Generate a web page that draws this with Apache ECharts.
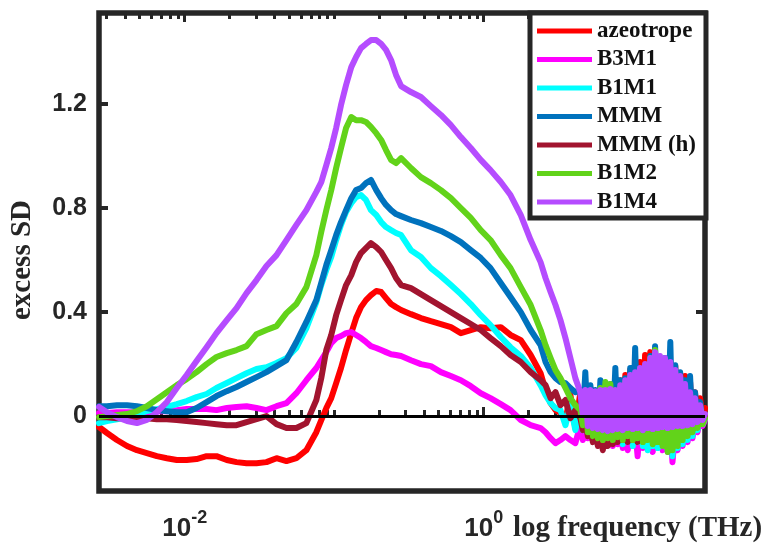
<!DOCTYPE html>
<html><head><meta charset="utf-8">
<script src="https://cdn.jsdelivr.net/npm/echarts@6/dist/echarts.min.js"></script>
<style>html,body{margin:0;padding:0;background:#fff}#c{width:769px;height:546px}</style>
</head><body><div id="c"></div>
<script>
// frequency grid (THz)
const freq = [0.00267,0.00302,0.00352,0.00411,0.00479,0.00558,0.00651,0.00759,0.00885,0.0103,
0.0120,0.0140,0.0163,0.0191,0.0222,0.0259,0.0302,0.0352,0.0411,0.0479,
0.0558,0.0651,0.0759,0.0819,0.0885,0.0955,0.103,0.111,0.120,0.130,
0.140,0.151,0.163,0.176,0.191,0.206,0.222,0.240,0.259,0.280,
0.326,0.380,0.443,0.517,0.603,0.703,0.819,0.955,1.11,1.30,
1.51,1.77,2.06,2.40,2.59,2.80,3.02,3.26,3.52,3.80,
4.10,
4.43,4.60,4.78,4.97,5.17,5.37,5.58,5.80,6.03,6.26,
6.51,6.76,7.03,7.30,7.59,7.88,8.19,8.51,8.85,9.19,
9.55,9.93,10.3,10.7,11.1,11.6,12.0,12.5,13.0,13.5,
14.0,14.6,15.1,15.7,16.3,17.0,17.7,18.3,19.1,19.8,
20.6,21.4,22.2,23.1,24.0,24.9,25.9,26.9,28.0,29.1,
30.2];

const azeotrope = [-0.042,-0.065,-0.092,-0.115,-0.131,-0.142,-0.154,-0.162,-0.169,-0.169,
-0.165,-0.154,-0.154,-0.169,-0.177,-0.181,-0.181,-0.177,-0.162,-0.173,
-0.162,-0.131,-0.062,-0.015,0.031,0.069,0.127,0.185,0.254,0.319,
0.377,0.419,0.446,0.465,0.481,0.477,0.454,0.431,0.419,0.408,
0.392,0.377,0.365,0.354,0.342,0.319,0.331,0.342,0.338,0.342,
0.312,0.292,0.235,0.165,0.100,0.050,0.023,0.012,-0.015,0.081,
-0.046,
0.092,-0.046,0.100,-0.054,0.108,-0.062,0.092,-0.054,0.100,-0.062,
0.108,-0.069,0.115,-0.054,0.115,-0.062,0.138,-0.069,0.158,-0.054,
0.177,-0.062,0.185,-0.069,0.208,-0.054,0.235,-0.062,0.246,-0.054,
0.231,-0.069,0.223,-0.054,0.215,-0.062,0.208,-0.054,0.192,-0.054,
0.162,-0.046,0.154,-0.046,0.131,-0.038,0.092,-0.031,0.069,-0.015,
0.031];

const B3M1 = [0.012,0.012,0.015,0.015,0.015,0.015,0.019,0.019,0.023,0.027,
0.027,0.027,0.023,0.031,0.035,0.038,0.031,0.023,0.038,0.050,
0.088,0.138,0.185,0.215,0.246,0.281,0.300,0.308,0.319,0.323,
0.312,0.300,0.285,0.269,0.262,0.254,0.246,0.238,0.235,0.231,
0.215,0.200,0.192,0.169,0.154,0.138,0.115,0.088,0.069,0.046,
0.023,-0.015,-0.035,-0.046,-0.062,-0.085,-0.104,-0.092,-0.077,-0.092,
-0.104,
-0.035,-0.092,-0.023,-0.085,-0.031,-0.092,-0.038,-0.100,-0.035,-0.108,
-0.046,-0.100,-0.046,-0.115,-0.054,-0.108,-0.046,-0.123,-0.054,-0.131,
-0.046,-0.115,-0.054,-0.154,-0.046,-0.123,-0.054,-0.115,-0.046,-0.138,
-0.054,-0.115,-0.046,-0.131,-0.054,-0.138,-0.046,-0.177,-0.054,-0.131,
-0.046,-0.115,-0.038,-0.100,-0.031,-0.085,-0.023,-0.062,-0.015,-0.038,
-0.015];

const B1M1 = [-0.027,-0.019,-0.012,-0.004,0.008,0.019,0.027,0.035,0.046,0.058,
0.073,0.085,0.108,0.127,0.146,0.165,0.181,0.188,0.204,0.223,
0.262,0.338,0.438,0.504,0.562,0.612,0.677,0.735,0.785,0.819,
0.842,0.850,0.831,0.792,0.773,0.746,0.727,0.715,0.704,0.696,
0.638,0.612,0.569,0.538,0.504,0.469,0.431,0.388,0.350,0.304,
0.265,0.231,0.185,0.119,0.081,0.050,0.031,0.023,-0.035,0.042,
-0.054,
0.031,-0.054,0.042,-0.069,0.038,-0.077,0.046,-0.085,0.042,-0.092,
0.046,-0.085,0.054,-0.100,0.046,-0.092,0.062,-0.108,0.054,-0.092,
0.069,-0.115,0.062,-0.100,0.077,-0.115,0.069,-0.131,0.081,-0.115,
0.077,-0.123,0.069,-0.108,0.077,-0.131,0.069,-0.154,0.062,-0.123,
0.054,-0.108,0.046,-0.092,0.038,-0.077,0.031,-0.054,0.015,-0.031,
-0.008];

const MMM = [0.038,0.038,0.042,0.042,0.038,0.031,0.023,0.019,0.015,0.015,
0.031,0.054,0.077,0.096,0.112,0.131,0.150,0.169,0.192,0.215,
0.285,0.362,0.446,0.512,0.581,0.638,0.696,0.746,0.792,0.838,
0.869,0.877,0.896,0.908,0.869,0.838,0.812,0.792,0.777,0.769,
0.754,0.742,0.727,0.712,0.692,0.669,0.638,0.608,0.569,0.512,
0.458,0.400,0.331,0.273,0.208,0.169,0.146,0.131,0.127,0.108,
0.092,
0.100,-0.015,0.169,-0.038,0.119,-0.046,0.100,-0.054,0.138,-0.046,
0.108,-0.054,0.123,-0.046,0.185,-0.054,0.138,-0.046,0.146,-0.054,
0.185,-0.038,0.262,-0.054,0.169,-0.046,0.196,-0.054,0.231,-0.046,
0.269,-0.054,0.208,-0.046,0.223,-0.054,0.285,-0.046,0.196,-0.038,
0.169,-0.046,0.138,-0.038,0.154,-0.031,0.092,-0.023,0.054,-0.015,
0.004];

const MMM_h = [-0.004,-0.004,-0.008,-0.008,-0.008,-0.008,-0.012,-0.012,-0.015,-0.019,
-0.023,-0.027,-0.031,-0.035,-0.035,-0.023,-0.012,0.000,-0.031,-0.046,
-0.046,-0.027,0.062,0.146,0.254,0.312,0.388,0.446,0.504,0.542,
0.592,0.627,0.646,0.665,0.650,0.631,0.600,0.569,0.531,0.504,
0.492,0.469,0.446,0.423,0.400,0.377,0.354,0.331,0.300,0.269,
0.235,0.208,0.169,0.138,0.119,0.069,0.092,0.042,0.062,-0.008,
0.023,
-0.008,-0.054,-0.023,-0.077,-0.046,-0.100,-0.062,-0.115,-0.069,-0.131,
-0.054,-0.115,-0.035,-0.108,-0.008,-0.100,0.015,-0.092,0.031,-0.100,
0.038,-0.092,0.046,-0.100,0.054,-0.092,0.062,-0.085,0.069,-0.092,
0.077,-0.085,0.092,-0.092,0.081,-0.085,0.069,-0.077,0.062,-0.077,
0.046,-0.069,0.038,-0.062,0.031,-0.054,0.023,-0.038,0.015,-0.023,
0.000];

const B1M2 = [-0.004,0.000,0.004,0.008,0.019,0.038,0.065,0.092,0.119,0.142,
0.169,0.200,0.227,0.242,0.254,0.269,0.315,0.331,0.346,0.396,
0.431,0.496,0.619,0.708,0.792,0.869,0.954,1.031,1.108,1.150,
1.138,1.138,1.131,1.112,1.088,1.062,1.023,0.985,0.973,0.992,
0.954,0.919,0.896,0.869,0.838,0.800,0.762,0.715,0.677,0.619,
0.569,0.496,0.427,0.331,0.273,0.223,0.177,0.146,0.108,0.069,
0.042,
0.023,-0.035,0.062,-0.062,0.069,-0.077,0.081,-0.085,0.108,-0.092,
0.131,-0.085,0.123,-0.092,0.092,-0.081,0.108,-0.092,0.131,-0.077,
0.146,-0.092,0.162,-0.085,0.177,-0.100,0.196,-0.092,0.223,-0.108,
0.254,-0.100,0.215,-0.115,0.208,-0.138,0.185,-0.131,0.169,-0.115,
0.138,-0.092,0.108,-0.077,0.085,-0.062,0.062,-0.046,0.038,-0.031,
-0.008];

const B1M4 = [0.035,0.015,-0.004,-0.019,-0.027,-0.015,0.015,0.054,0.108,0.158,
0.212,0.265,0.319,0.369,0.415,0.473,0.523,0.577,0.619,0.677,
0.735,0.792,0.862,0.900,0.965,1.031,1.108,1.196,1.273,1.342,
1.381,1.415,1.431,1.446,1.446,1.431,1.408,1.369,1.312,1.269,
1.246,1.227,1.192,1.158,1.119,1.073,1.031,0.985,0.946,0.900,
0.850,0.773,0.677,0.592,0.531,0.477,0.427,0.369,0.300,0.223,
0.146,
0.092,0.004,0.100,-0.038,0.100,-0.046,0.096,-0.050,0.100,-0.054,
0.100,-0.058,0.104,-0.054,0.100,-0.050,0.119,-0.054,0.138,-0.046,
0.158,-0.050,0.169,-0.046,0.185,-0.054,0.200,-0.046,0.223,-0.050,
0.246,-0.046,0.231,-0.042,0.223,-0.046,0.208,-0.042,0.177,-0.038,
0.154,-0.038,0.123,-0.035,0.092,-0.031,0.069,-0.023,0.042,-0.015,
0.008];

const seriesNames = ['azeotrope','B3M1','B1M1','MMM','MMM (h)','B1M2','B1M4'];
const seriesValues = [azeotrope, B3M1, B1M1, MMM, MMM_h, B1M2, B1M4];
const seriesColors = ['#ff0000','#ff00ff','#00ffff','#0072bd','#a2142f','#62d31a','#b54cff'];

const yTickValues = [0, 0.4, 0.8, 1.2];
const xMajorTickValues = [0.01, 1];
const xMinorTickValues = [0.003,0.004,0.005,0.006,0.007,0.008,0.009,
0.02,0.03,0.04,0.05,0.06,0.07,0.08,0.09,0.1,
0.2,0.3,0.4,0.5,0.6,0.7,0.8,0.9,
2,3,4,5,6,7,8,9,10,20,30];

const X_MIN = 0.00267, X_MAX = 30.2, Y_MIN = -0.288, Y_MAX = 1.55;
const INK = '#262626';

function xAxisCfg(pos, major, withLabels) {
  return {
    type: 'log', logBase: 10, position: pos, min: X_MIN, max: X_MAX,
    axisLine: { show: false },
    splitLine: { show: false },
    minorTick: { show: false },
    axisTick: { show: true, inside: true, length: major ? 9 : 6,
      customValues: major ? xMajorTickValues : xMinorTickValues,
      lineStyle: { color: INK, width: 3 } },
    axisLabel: withLabels ? {
      show: true, margin: 18, customValues: xMajorTickValues,
      formatter: function (v) { return '{b|10}{s|' + Math.round(Math.log10(v)) + '}'; },
      rich: {
        b: { fontFamily: 'Liberation Sans', fontWeight: 'bold', fontSize: 26, color: INK, lineHeight: 33, verticalAlign: 'bottom' },
        s: { fontFamily: 'Liberation Sans', fontWeight: 'bold', fontSize: 18, color: INK, lineHeight: 33, verticalAlign: 'top' }
      }
    } : { show: false }
  };
}

function yAxisCfg(pos, withLabels) {
  return {
    type: 'value', position: pos, min: Y_MIN, max: Y_MAX,
    axisLine: { show: false },
    splitLine: { show: false },
    axisTick: { show: true, inside: true, length: 9, customValues: yTickValues,
      lineStyle: { color: INK, width: 4 } },
    axisLabel: withLabels ? {
      show: true, margin: 12, customValues: yTickValues,
      fontFamily: 'Liberation Sans', fontWeight: 'bold', fontSize: 25, color: INK,
      formatter: function (v) { return v === 0 ? '0' : v.toFixed(1); }
    } : { show: false },
    name: withLabels ? 'excess SD' : '',
    nameLocation: 'middle', nameGap: 62, nameRotate: 90,
    nameTextStyle: { fontFamily: 'Liberation Serif', fontWeight: 'bold', fontSize: 29, color: INK,
      padding: [0, 16, 0, 0] }
  };
}

const series = seriesNames.map(function (name, k) {
  return {
    name: name, type: 'line', xAxisIndex: 0, yAxisIndex: 0,
    data: freq.map(function (f, i) { return [f, seriesValues[k][i]]; }),
    showSymbol: false, symbol: 'none', smooth: false,
    lineStyle: { width: 6, color: seriesColors[k], join: 'round', cap: 'round' },
    itemStyle: { color: seriesColors[k] },
    animation: false
  };
});
series.push({
  name: 'zero', type: 'line', xAxisIndex: 0, yAxisIndex: 0, data: [], silent: true,
  markLine: { symbol: 'none', silent: true, label: { show: false },
    lineStyle: { color: '#000', width: 3, type: 'solid' },
    data: [{ yAxis: 0 }] },
  animation: false
});

const chart = echarts.init(document.getElementById('c'), null, { renderer: 'canvas' });
chart.setOption({
  backgroundColor: '#fff',
  animation: false,
  grid: { left: 97, right: 64, top: 13, bottom: 55, show: true,
    borderColor: INK, borderWidth: 5.5, backgroundColor: 'transparent', containLabel: false },
  xAxis: [xAxisCfg('bottom', true, true), xAxisCfg('bottom', false, false),
          xAxisCfg('top', true, false), xAxisCfg('top', false, false)],
  yAxis: [yAxisCfg('left', true), yAxisCfg('right', false)],
  legend: {
    data: seriesNames, orient: 'vertical', left: 530, top: 13,
    padding: [6, 10, 4, 7], itemGap: 4.5, itemWidth: 55, itemHeight: 5, icon: 'rect',
    backgroundColor: '#fff', borderColor: INK, borderWidth: 5, selectedMode: false,
    textStyle: { fontFamily: 'Liberation Serif', fontWeight: 'bold', fontSize: 23, color: '#111', lineHeight: 24 }
  },
  graphic: [{
    type: 'text', left: 513, top: 514, silent: true,
    style: { text: 'log frequency (THz)', font: 'bold 29px "Liberation Serif"', fill: INK }
  }],
  series: series
});
</script></body></html>
